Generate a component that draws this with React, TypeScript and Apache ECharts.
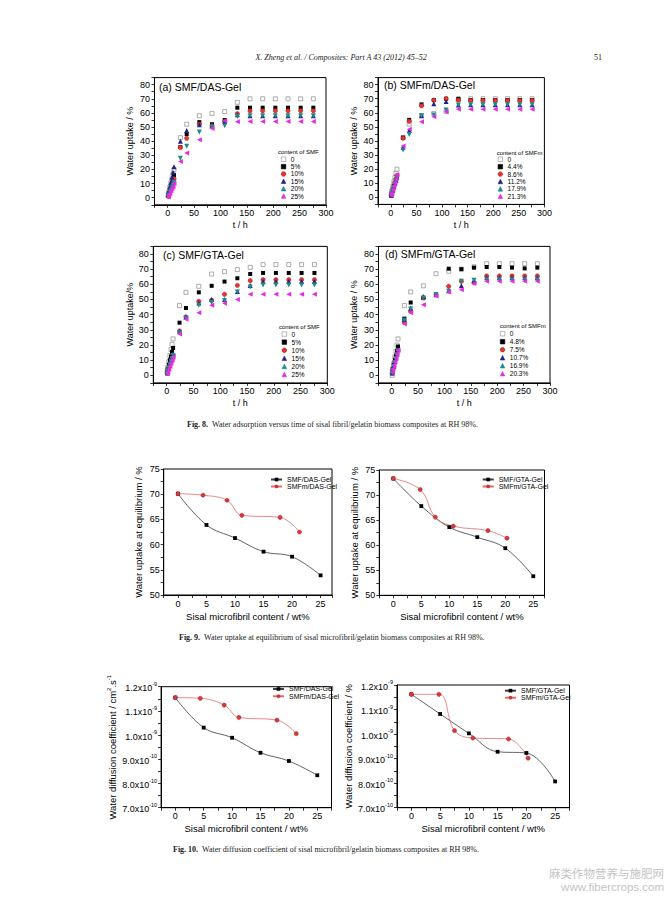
import React, { useEffect, useRef } from "react";
import * as echarts from "echarts";

// ---------------- Fig. 8 data (water uptake % vs time h) ----------------
const FIG8_TIME = [1, 2, 4, 6, 8, 10, 12, 24, 36, 60, 84, 108, 132, 156, 180, 204, 228, 252, 276];

const A_NAMES = ["0", "5%", "10%", "15%", "20%", "25%"];
const A_S0 = [2, 4, 7.5, 10.5, 13.5, 17, 20, 42.5, 52, 58, 59.7, 61, 67.5, 70, 70, 70, 70, 70, 70];
const A_S5 = [1.5, 3, 5.5, 8, 10.5, 13, 16, 35.8, 45, 53.5, 52, 55, 63.7, 63.7, 63.7, 63.7, 63.7, 63.7, 63.7];
const A_S10 = [1, 2.5, 4.5, 7, 9, 11, 13.5, 35.6, 42, 52, 51, 54, 59.5, 61.5, 61.5, 61.5, 61.5, 61.5, 61.5];
const A_S15 = [2, 4, 8, 11, 14.5, 18, 22, 40, 47.6, 51.6, 51, 54, 58.7, 58, 58, 58, 58, 58, 58];
const A_S20 = [1, 2, 4, 5.5, 7.5, 9, 11, 28, 36.5, 46.5, 50, 51, 57.5, 58, 58, 58, 58, 58, 58];
const A_S25 = [0.5, 1.5, 3, 5, 6.5, 8, 10, 25.7, 31.6, 41, 49, 54.5, 53.8, 54, 54, 54, 54, 54, 54];

const B_NAMES = ["0", "4.4%", "8.6%", "11.2%", "17.9%", "21.3%"];
const B_S0 = [2, 4.5, 8, 11, 14, 17, 20, 42.4, 52, 58, 59.6, 61, 69.5, 70, 70, 70, 70, 70, 70];
const B_S44 = [1.5, 3, 5.5, 8, 10, 12.5, 15, 42.4, 55, 66, 69, 70, 70, 69, 69, 69, 69, 69, 69];
const B_S86 = [1.5, 3, 5.5, 8, 10.5, 13, 15.5, 42, 54, 65, 69, 70, 69, 68.6, 68.6, 68.6, 68.6, 68.6, 68.6];
const B_S112 = [1.5, 3, 5, 7.5, 10, 12, 14.5, 35.5, 47.5, 58, 66.5, 68, 65.5, 65.8, 65.8, 65.8, 65.8, 65.8, 65.8];
const B_S179 = [1.5, 3, 5, 7, 9.5, 11.5, 14, 33.6, 44.7, 58, 58.5, 62, 65.5, 65.8, 65.8, 65.8, 65.8, 65.8, 65.8];
const B_S213 = [1.5, 3, 5.5, 8, 10.5, 13, 16, 36.5, 48.3, 53.7, 57.3, 60.8, 62.5, 62.5, 62.5, 62.5, 62.5, 62.5, 62.5];

const C_NAMES = ["0", "5%", "10%", "15%", "20%", "25%"];
const C_S0 = [2.5, 5, 9, 13, 17, 20.5, 24, 46, 54.7, 58.7, 66.8, 68.4, 69.7, 71.2, 73, 73, 73, 73, 73];
const C_S5 = [2, 4, 7, 10, 12.5, 15.5, 18, 34.7, 44.4, 54.7, 59, 61.8, 64, 66.8, 67.5, 67.5, 67.5, 67.5, 67.5];
const C_S10 = [1.5, 3, 5, 7, 9, 11, 13.5, 29.2, 38.5, 48.8, 49.5, 53.4, 59.3, 62.4, 63, 63, 63, 63, 63];
const C_S15 = [1.5, 3, 5, 7.5, 9.5, 11.5, 14, 29, 38.5, 47.7, 50, 50, 55.2, 59.3, 61.8, 61.8, 61.8, 61.8, 61.8];
const C_S20 = [1.5, 3, 5, 7, 9, 11, 13, 28, 37.8, 46.2, 48, 49.2, 55, 58.2, 59.6, 59.6, 59.6, 59.6, 59.6];
const C_S25 = [1, 2, 4, 6, 8, 10, 12, 27.3, 37, 41.3, 46.2, 47.5, 50, 53.4, 53.4, 53.4, 53.4, 53.4, 53.4];

const D_NAMES = ["0", "4.8%", "7.5%", "10.7%", "16.9%", "20.3%"];
const D_S0 = [0, 4, 8, 12, 16, 20, 24, 46, 55, 59, 67, 68.6, 70, 71.6, 73.6, 73.6, 73.6, 73.6, 73.6];
const D_S48 = [2, 4, 7, 10, 13, 16, 19, 37.4, 48, 51, 53.2, 70.3, 70, 71, 71.4, 71.4, 71, 70.5, 71];
const D_S75 = [1.5, 3.5, 6, 9, 11.5, 14, 16.5, 35, 42.2, 51, 53.2, 58.7, 62, 61, 65.5, 65.5, 65.5, 65.5, 65.5];
const D_S107 = [1.5, 3.5, 6, 9, 11.5, 14, 17, 37, 44.4, 52, 53.2, 55.8, 59, 62.6, 64.4, 64.4, 64.4, 64.4, 64.4];
const D_S169 = [1.5, 3.5, 6, 8.5, 11, 13.5, 16, 36.3, 43.7, 51, 53.2, 55.4, 62, 62.6, 63, 63, 63, 63, 63];
const D_S203 = [2, 4, 6.5, 9, 11.5, 14, 16.5, 33.8, 41.3, 46.6, 52.3, 55, 56.5, 60.6, 62, 62, 62, 62, 62];

// ---------------- Fig. 9 data (equilibrium water uptake %) ----------------
const SMF_CONTENT = [0, 5, 10, 15, 20, 25];
const SMFM_DAS_CONTENT = [0, 4.4, 8.6, 11.2, 17.9, 21.3];
const SMFM_GTA_CONTENT = [0, 4.8, 7.5, 10.7, 16.9, 20.3];
const F9_SMF_DAS = [70.1, 63.9, 61.3, 58.6, 57.6, 53.9];
const F9_SMFM_DAS = [70.1, 69.8, 68.8, 65.8, 65.4, 62.5];
const F9_SMF_GTA = [73.3, 67.8, 63.6, 61.6, 59.4, 53.8];
const F9_SMFM_GTA = [73.3, 71.1, 65.6, 63.8, 62.9, 61.4];

// ---------------- Fig. 10 data (diffusion coefficient) ----------------
const F10_SMF_DAS = [1.155e-9, 1.031e-9, 0.989e-9, 0.927e-9, 0.893e-9, 0.834e-9];
const F10_SMFM_DAS = [1.155e-9, 1.152e-9, 1.124e-9, 1.073e-9, 1.062e-9, 1.006e-9];
const F10_SMF_GTA = [1.162e-9, 1.082e-9, 1.003e-9, 0.928e-9, 0.923e-9, 0.807e-9];
const F10_SMFM_GTA = [1.162e-9, 1.162e-9, 1.014e-9, 0.984e-9, 0.98e-9, 0.902e-9];

const SANS = "Liberation Sans, Arial, sans-serif";
const SERIF = "Liberation Serif, Times New Roman, serif";

type Sym = { symbol: string; size: number; color: string; border?: string; bw?: number; rotate?: number };
const SYMS: Sym[] = [
  { symbol: "rect", size: 4, color: "#ffffff", border: "#8a8a8a", bw: 0.7 },
  { symbol: "rect", size: 4, color: "#000000" },
  { symbol: "circle", size: 4.4, color: "#e8332e", border: "#8a1a1a", bw: 0.4 },
  { symbol: "triangle", size: 5, color: "#1c2384" },
  { symbol: "triangle", size: 5, color: "#1e8a8a", rotate: 180 },
  { symbol: "triangle", size: 5, color: "#e22ee2", rotate: 90 },
];

const GRIDS = [
  { left: 154.5, top: 77.6, width: 171.5, height: 127.2 },
  { left: 378, top: 77.6, width: 166.4, height: 126.8 },
  { left: 153.3, top: 246.4, width: 174, height: 136.5 },
  { left: 378.5, top: 246.4, width: 171.5, height: 136.5 },
  { left: 163.7, top: 469, width: 168.3, height: 126 },
  { left: 379.3, top: 470, width: 165.2, height: 125.3 },
  { left: 161.1, top: 686.7, width: 170.4, height: 121 },
  { left: 397, top: 685, width: 172.5, height: 122.7 },
];

function buildOption() {
  const axisLine = { show: true, onZero: false, lineStyle: { color: "#000", width: 1 } };
  const axisTick = { show: true, inside: false, length: 3, lineStyle: { color: "#000", width: 0.8 } };

  const grid = GRIDS.map((g) => ({ ...g, show: true, borderColor: "#000", borderWidth: 1, backgroundColor: "transparent" }));
  const xAxis: any[] = [];
  const yAxis: any[] = [];
  const series: any[] = [];

  const fig8Panels = [
    { names: A_NAMES, data: [A_S0, A_S5, A_S10, A_S15, A_S20, A_S25], yName: "Water uptake / %", yGap: 20 },
    { names: B_NAMES, data: [B_S0, B_S44, B_S86, B_S112, B_S179, B_S213], yName: "Water uptake / %", yGap: 19.5 },
    { names: C_NAMES, data: [C_S0, C_S5, C_S10, C_S15, C_S20, C_S25], yName: "Water uptake/%", yGap: 18 },
    { names: D_NAMES, data: [D_S0, D_S48, D_S75, D_S107, D_S169, D_S203], yName: "Water uptake / %", yGap: 20 },
  ];

  fig8Panels.forEach((p, i) => {
    xAxis.push({
      type: "value", gridIndex: i, min: -25, max: 300, interval: 25,
      name: "t / h", nameLocation: "middle", nameGap: 16,
      nameTextStyle: { fontSize: 9, fontFamily: SANS, color: "#000", verticalAlign: "top" },
      axisLine, axisTick, splitLine: { show: false },
      axisLabel: { fontSize: 9, fontFamily: SANS, color: "#000", margin: 4,
        formatter: (v: number) => (v >= 0 && v % 50 === 0 ? String(v) : "") },
    });
    yAxis.push({
      type: "value", gridIndex: i, min: -5, max: 85, interval: 5,
      name: p.yName, nameLocation: "middle", nameGap: p.yGap, nameRotate: 90,
      nameTextStyle: { fontSize: 9, fontFamily: SANS, color: "#000" },
      axisLine, axisTick, splitLine: { show: false },
      axisLabel: { fontSize: 9, fontFamily: SANS, color: "#000", margin: 4.5,
        formatter: (v: number) => (v >= 0 && v <= 80 && v % 10 === 0 ? String(v) : "") },
    });
    p.data.forEach((arr, k) => {
      const s = SYMS[k];
      series.push({
        type: "scatter", name: p.names[k], xAxisIndex: i, yAxisIndex: i,
        symbol: s.symbol, symbolSize: s.size, symbolRotate: s.rotate || 0,
        itemStyle: { color: s.color, borderColor: s.border || s.color, borderWidth: s.bw || 0, opacity: 1 },
        data: FIG8_TIME.map((t, j) => [t, arr[j]]),
      });
    });
  });

  // Fig 9 and Fig 10
  const xCommon = (gi: number, max: number) => ({
    type: "value", gridIndex: gi, min: -2.5, max, interval: 2.5,
    name: "Sisal microfibril content / wt%", nameLocation: "middle", nameGap: 16,
    nameTextStyle: { fontSize: 9.5, fontFamily: SANS, color: "#000", verticalAlign: "top" },
    axisLine, axisTick, splitLine: { show: false },
    axisLabel: { fontSize: 9, fontFamily: SANS, color: "#000", margin: 4,
      formatter: (v: number) => (v >= 0 && Math.abs(v % 5) < 1e-6 ? String(v) : "") },
  });
  xAxis.push(xCommon(4, 27), xCommon(5, 27), xCommon(6, 27.5), xCommon(7, 27.5));

  const y9 = (gi: number) => ({
    type: "value", gridIndex: gi, min: 50, max: 75, interval: 2.5,
    name: "Water uptake at equilibrium / %", nameLocation: "middle", nameGap: 20, nameRotate: 90,
    nameTextStyle: { fontSize: 9.5, fontFamily: SANS, color: "#000" },
    axisLine, axisTick, splitLine: { show: false },
    axisLabel: { fontSize: 9, fontFamily: SANS, color: "#000", margin: 4,
      formatter: (v: number) => (Math.abs(v % 5) < 1e-6 ? String(v) : "") },
  });
  const diffFmt = (v: number) => {
    const k = Math.round(v / 5e-11);
    if (k % 2 !== 0) return "";
    const n = k / 2;
    if (n >= 10) return `{m|${(n / 10).toFixed(1)}x10}{e|-9}`;
    return `{m|${n.toFixed(1)}x10}{e|-10}`;
  };
  const y10 = (gi: number, name: string, gap: number) => ({
    type: "value", gridIndex: gi, min: 7e-10, max: 1.2e-9, interval: 5e-11,
    name, nameLocation: "middle", nameGap: gap, nameRotate: 90,
    nameTextStyle: { fontSize: 9.5, fontFamily: SANS, color: "#000", lineHeight: 12,
      rich: { s: { fontSize: 6, fontFamily: SANS, color: "#000", verticalAlign: "top", lineHeight: 12 } } },
    axisLine, axisTick, splitLine: { show: false },
    axisLabel: { color: "#000", margin: 4, formatter: diffFmt,
      rich: {
        m: { fontSize: 9, fontFamily: SANS, color: "#000", lineHeight: 12, verticalAlign: "bottom" },
        e: { fontSize: 5.5, fontFamily: SANS, color: "#000", lineHeight: 12, verticalAlign: "top" },
      } },
  });
  yAxis.push(
    y9(4), y9(5),
    y10(6, "Water diffusion coefficient / cm{s|2}.s{s|-1}", 41),
    y10(7, "Water diffusion coefficient / %", 39),
  );

  const lineSeries = (name: string, xs: number[], ys: number[], idx: number, red: boolean) => ({
    type: "line", name, xAxisIndex: idx, yAxisIndex: idx, smooth: 0.4,
    symbol: red ? "circle" : "rect", symbolSize: red ? 4.2 : 3.8,
    lineStyle: { color: red ? "#e56a6a" : "#3a3a3a", width: 0.8 },
    itemStyle: { color: red ? "#e0383a" : "#000", borderColor: red ? "#7a1a1a" : "#000", borderWidth: red ? 0.4 : 0 },
    data: xs.map((x, j) => [x, ys[j]]),
  });
  series.push(
    lineSeries("SMF/DAS-Gel", SMF_CONTENT, F9_SMF_DAS, 4, false),
    lineSeries("SMFm/DAS-Gel", SMFM_DAS_CONTENT, F9_SMFM_DAS, 4, true),
    lineSeries("SMF/GTA-Gel", SMF_CONTENT, F9_SMF_GTA, 5, false),
    lineSeries("SMFm/GTA-Gel", SMFM_GTA_CONTENT, F9_SMFM_GTA, 5, true),
    lineSeries("SMF/DAS-Gel", SMF_CONTENT, F10_SMF_DAS, 6, false),
    lineSeries("SMFm/DAS-Gel", SMFM_DAS_CONTENT, F10_SMFM_DAS, 6, true),
    lineSeries("SMF/GTA-Gel", SMF_CONTENT, F10_SMF_GTA, 7, false),
    lineSeries("SMFm/GTA-Gel", SMFM_GTA_CONTENT, F10_SMFM_GTA, 7, true),
  );

  const scatterLegend = (names: string[], left: number, top: number, lh: number) => ({
    data: names, orient: "vertical", left, top, padding: 0, itemGap: 0,
    itemWidth: 4.5, itemHeight: 4.5, selectedMode: false,
    itemStyle: { borderWidth: 0.6 },
    textStyle: { fontSize: 6.5, fontFamily: SANS, color: "#000", lineHeight: lh },
  });
  const lineLegend = (names: string[], left: number, top: number, lh: number) => ({
    data: names, orient: "vertical", left, top, padding: 0, itemGap: 0,
    itemWidth: 11, itemHeight: 4, selectedMode: false,
    itemStyle: { borderWidth: 0.4 },
    textStyle: { fontSize: 7, fontFamily: SANS, color: "#000", lineHeight: lh },
  });
  const legend = [
    scatterLegend(A_NAMES, 281, 155.6, 7.35),
    scatterLegend(B_NAMES, 497.8, 155.6, 7.4),
    scatterLegend(C_NAMES, 281.8, 330, 8.1),
    scatterLegend(D_NAMES, 500, 329.7, 8),
    lineLegend(["SMF/DAS-Gel", "SMFm/DAS-Gel"], 270, 476, 6.7),
    lineLegend(["SMF/GTA-Gel", "SMFm/GTA-Gel"], 481.7, 476, 6.7),
    lineLegend(["SMF/DAS-Gel", "SMFm/DAS-Gel"], 272, 685.3, 7.3),
    lineLegend(["SMF/GTA-Gel", "SMFm/GTA-Gel"], 504, 687.2, 7),
  ];

  const txt = (x: number, y: number, text: string, size: number, extra: any = {}) => ({
    type: "text", x, y, silent: true,
    style: { text, fontSize: size, fontFamily: SANS, fill: "#000", align: "left", verticalAlign: "middle", ...extra },
  });
  const capRich = { b: { fontWeight: "bold", fontFamily: SERIF, fontSize: 8, fill: "#222" } };
  const graphic = [
    txt(341, 57, "X. Zheng et al. / Composites: Part A 43 (2012) 45–52", 8,
      { fontFamily: SERIF, fontStyle: "italic", align: "center", fill: "#222" }),
    txt(598, 57, "51", 8, { fontFamily: SERIF, align: "center", fill: "#222" }),
    txt(159, 86.7, "(a) SMF/DAS-Gel", 10.5),
    txt(384, 84.7, "(b) SMFm/DAS-Gel", 10.5),
    txt(163, 255, "(c) SMF/GTA-Gel", 10.5),
    txt(385, 254, "(d) SMFm/GTA-Gel", 10.5),
    txt(278, 151.7, "content of SMF", 6),
    txt(496.7, 152.7, "content of SMFm", 6),
    txt(279, 327.3, "content of SMF", 6),
    txt(500, 325.7, "content of SMFm", 6),
    txt(187, 424.7, "{b|Fig. 8.}  Water adsorption versus time of sisal fibril/gelatin biomass composites at RH 98%.", 8,
      { fontFamily: SERIF, fill: "#222", rich: capRich }),
    txt(179, 637, "{b|Fig. 9.}  Water uptake at equilibrium of sisal microfibril/gelatin biomass composites at RH 98%.", 8,
      { fontFamily: SERIF, fill: "#222", rich: capRich }),
    txt(173, 849, "{b|Fig. 10.}  Water diffusion coefficient of sisal microfibril/gelatin biomass composites at RH 98%.", 8,
      { fontFamily: SERIF, fill: "#222", rich: capRich }),
    txt(664, 873, "麻类作物营养与施肥网", 11.5,
      { fontFamily: "Noto Sans CJK SC, sans-serif", align: "right", fill: "#c4c4c4" }),
    txt(664, 887, "www.fibercrops.com", 11.5, { align: "right", fill: "#c4c4c4" }),
  ];

  return { animation: false, backgroundColor: "#fff", grid, xAxis, yAxis, series, legend, graphic };
}

export default function App() {
  const ref = useRef<HTMLDivElement>(null);
  useEffect(() => {
    const chart = echarts.init(ref.current!, null, { renderer: "svg", width: 672, height: 897 });
    chart.setOption(buildOption() as any);
    return () => chart.dispose();
  }, []);
  return (
    <div
      ref={ref}
      style={{ position: "absolute", left: 0, top: 0, width: 672, height: 897, background: "#fff" }}
    />
  );
}
